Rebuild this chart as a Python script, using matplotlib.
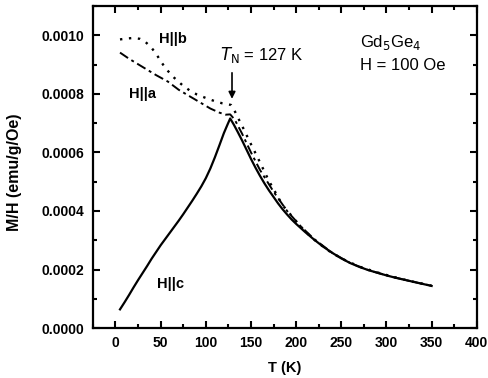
import matplotlib
matplotlib.use("Agg")
import matplotlib.pyplot as plt
from matplotlib.ticker import MultipleLocator, FormatStrFormatter

plt.rcParams['font.family'] = ['Liberation Sans', 'DejaVu Sans']

# H||c (solid)
T_c = [5, 10, 15, 20, 25, 30, 35, 40, 45, 50, 55, 60, 65, 70, 75, 80, 85, 90,
       95, 100, 105, 110, 115, 120, 124, 127,
       131, 135, 140, 145, 150, 155, 160, 165, 170, 175, 180, 185, 190, 195,
       200, 205, 210, 215, 220, 230, 240, 250, 260, 270, 280, 290, 300, 310,
       320, 330, 340, 350]
M_c = [0.000064, 0.000088, 0.000113, 0.000139, 0.000164, 0.000188, 0.000212,
       0.000237, 0.000260, 0.000283, 0.000304, 0.000325, 0.000346, 0.000367,
       0.000389, 0.000412, 0.000435, 0.000459, 0.000484, 0.000512, 0.000545,
       0.000583, 0.000624, 0.000666, 0.000695, 0.000716,
       0.000695, 0.000672, 0.000642, 0.000610, 0.000578, 0.000548, 0.000520,
       0.000494, 0.000470, 0.000448, 0.000426, 0.000406, 0.000388, 0.000371,
       0.000356, 0.000342, 0.000328, 0.000315, 0.000302, 0.000278, 0.000257,
       0.000238, 0.000222, 0.000209, 0.000198, 0.000189, 0.000180, 0.000172,
       0.000165, 0.000158, 0.000151, 0.000144]

# H||b (dotted)
T_b = [5, 12, 20, 27, 33, 40, 45, 50, 56, 65, 74, 82, 90, 100, 110, 118, 124,
       128, 131, 135, 140, 150, 157, 170, 185, 200, 210, 220, 235, 250, 270,
       290, 310, 330, 350]
M_b = [0.000986, 0.000989, 0.000991, 0.000988, 0.000978, 0.000957, 0.000937,
       0.000912, 0.000885, 0.000855, 0.000830, 0.000812, 0.000798, 0.000786,
       0.000775, 0.000768, 0.000765, 0.000762, 0.000748, 0.000722, 0.000692,
       0.000628, 0.000585, 0.000502, 0.000420, 0.000365, 0.000330, 0.000302,
       0.000266, 0.000238, 0.000210, 0.000190, 0.000173, 0.000158, 0.000145]

# H||a (dash-dot)
T_a = [5, 15, 30, 45, 58, 70, 82, 93, 105, 115, 122, 127,
       132, 140, 150, 160, 175, 190, 205, 220, 240, 260, 280, 300, 320, 340, 350]
M_a = [0.000941, 0.000920, 0.000892, 0.000864, 0.000842, 0.000814, 0.000792,
       0.000772, 0.000750, 0.000736, 0.000729, 0.000730,
       0.000712, 0.000665, 0.000600, 0.000540, 0.000466, 0.000400, 0.000348,
       0.000304, 0.000257, 0.000222, 0.000198, 0.000180, 0.000165, 0.000151, 0.000145]

fig = plt.figure(figsize=(4.89, 3.78), dpi=100)
ax = fig.add_axes([0.190, 0.132, 0.785, 0.852])

ax.plot(T_c, M_c, color='black', lw=1.6, ls='-')
ax.plot(T_b, M_b, color='black', lw=1.7, ls=(0, (1, 2.8)))
ax.plot(T_a, M_a, color='black', lw=1.4, ls=(0, (5, 2, 1.5, 2)))

ax.set_xlim(-25, 400)
ax.set_ylim(0, 0.0011)
ax.xaxis.set_major_locator(MultipleLocator(50))
ax.xaxis.set_minor_locator(MultipleLocator(25))
ax.yaxis.set_major_locator(MultipleLocator(0.0002))
ax.yaxis.set_minor_locator(MultipleLocator(0.0001))
ax.tick_params(which='both', direction='in', top=True, right=True, width=1.5)
ax.tick_params(which='major', length=5, labelsize=10, pad=6)
ax.tick_params(which='minor', length=3)
ax.yaxis.set_major_formatter(FormatStrFormatter('%.4f'))
for lab in ax.get_xticklabels() + ax.get_yticklabels():
    lab.set_fontweight('bold')
for s in ax.spines.values():
    s.set_linewidth(1.6)

ax.set_xlabel('T (K)', fontsize=10.5, fontweight='bold', va='center')
ax.xaxis.set_label_coords(0.5, -0.124)
ax.set_ylabel('M/H (emu/g/Oe)', fontsize=11.5, fontweight='bold', va='center')
ax.yaxis.set_label_coords(-0.203, 0.483)

ax.text(48.5, 0.000986, 'H||b', fontsize=10.5, fontweight='bold', va='center', ha='left')
ax.text(15.4, 0.000799, 'H||a', fontsize=10.5, fontweight='bold', va='center', ha='left')
ax.text(46, 0.000150, 'H||c', fontsize=10.5, fontweight='bold', va='center', ha='left')

ax.text(271, 0.000977, r'Gd$_5$Ge$_4$', fontsize=12, va='center', ha='left')
ax.text(271, 0.000898, 'H = 100 Oe', fontsize=12, va='center', ha='left')
ax.text(115.5, 0.000932, r'$\mathit{T}_{\rm N}$ = 127 K', fontsize=12, va='center', ha='left')
ax.annotate('', xy=(129, 0.000783), xytext=(129, 0.000872),
            arrowprops=dict(arrowstyle='-|>', color='black', lw=1.2,
                            mutation_scale=10, shrinkA=0, shrinkB=0))

fig.savefig('out.png', dpi=100)
